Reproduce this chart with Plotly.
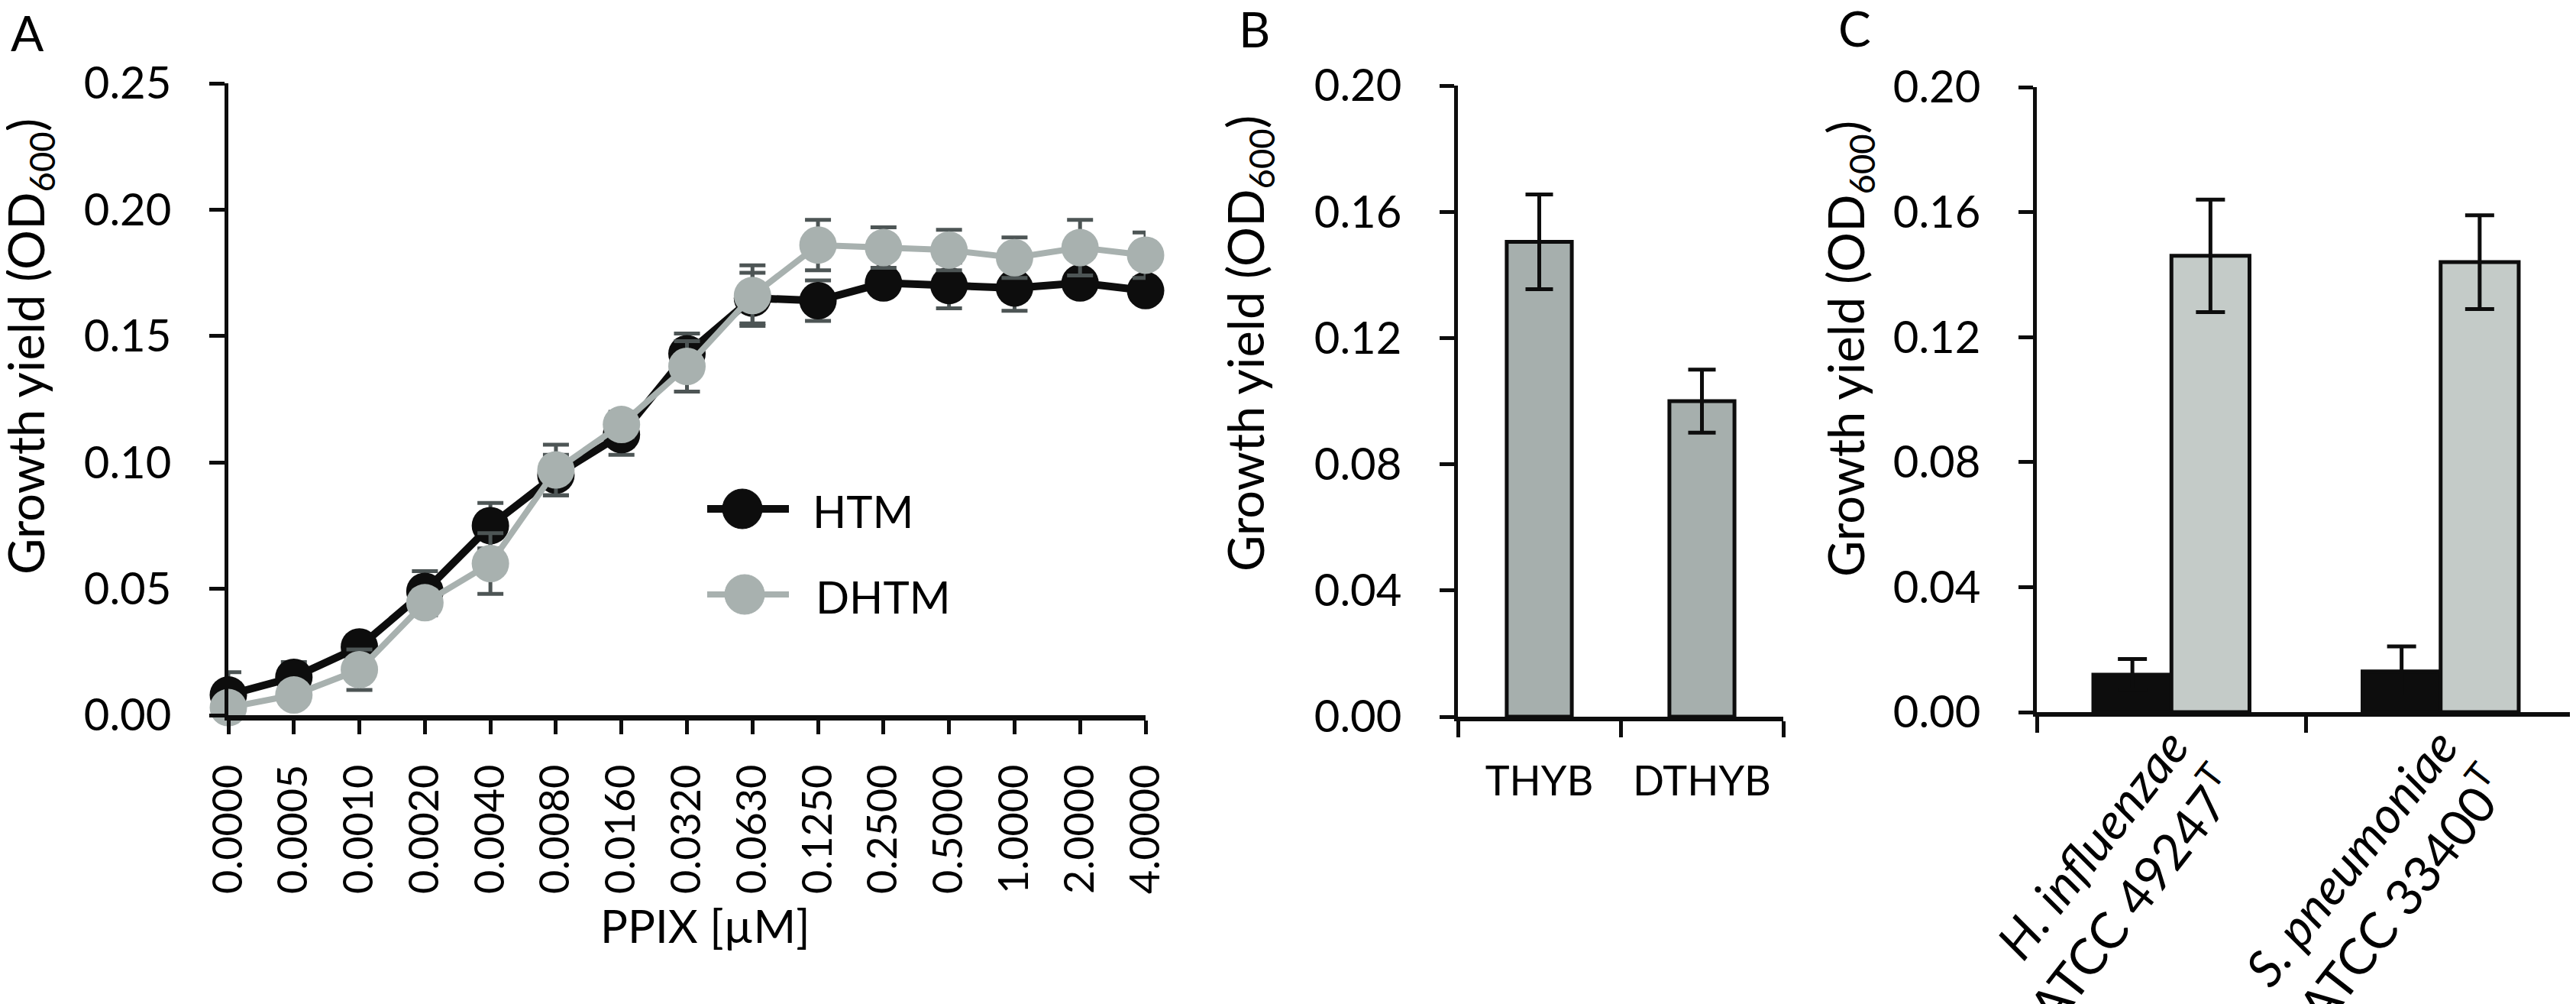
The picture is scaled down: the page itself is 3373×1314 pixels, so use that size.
import plotly.graph_objects as go

W, H = 3373, 1314
FONT = "Lato"

# ---------------- data ----------------
ppix = ["0.0000", "0.0005", "0.0010", "0.0020", "0.0040", "0.0080", "0.0160", "0.0320",
        "0.0630", "0.1250", "0.2500", "0.5000", "1.0000", "2.0000", "4.0000"]
htm = [0.008, 0.015, 0.027, 0.049, 0.075, 0.095, 0.111, 0.143, 0.165, 0.164, 0.171, 0.170, 0.169, 0.171, 0.168]
htm_err = [0.009, 0.006, 0.003, 0.008, 0.009, 0.008, 0.008, 0.008, 0.010, 0.008, 0.004, 0.009, 0.009, 0.004, 0.004]
dhtm = [0.003, 0.008, 0.018, 0.0445, 0.060, 0.097, 0.115, 0.138, 0.166, 0.186, 0.185, 0.184, 0.181, 0.185, 0.182]
dhtm_err = [0.003, 0.003, 0.008, 0.005, 0.012, 0.010, 0.005, 0.010, 0.012, 0.010, 0.008, 0.008, 0.008, 0.011, 0.009]

media_b = ["THYB", "DTHYB"]
yield_b = [0.1505, 0.100]
err_b = [0.015, 0.010]

strains_c = ["<i>H. influenzae</i><br>ATCC 49247<sup>T</sup>",
             "<i>S. pneumoniae</i><br>ATCC 33400<sup>T</sup>"]
yield_c_black = [0.012, 0.013]
err_c_black = [0.005, 0.008]
yield_c_grey = [0.146, 0.144]
err_c_grey = [0.018, 0.015]

# ---------------- colours ----------------
BLACK = "#0d0d0d"
GREY_LINE = "#a8b1af"
ERR_A = "#4d5555"
GREY_B = "#a6afad"
GREY_C = "#c4cbc8"


def px_x(p):
    return p / W


def px_y(p):
    return 1 - p / H


fig = go.Figure()

# ---- Panel A ----
fig.add_trace(go.Scatter(
    x=ppix, y=htm, mode="lines+markers", name="HTM",
    line=dict(color=BLACK, width=10),
    marker=dict(color=BLACK, size=49),
    error_y=dict(type="data", array=htm_err, color=ERR_A, thickness=5, width=17),
    cliponaxis=False, showlegend=False, xaxis="x", yaxis="y"))
fig.add_trace(go.Scatter(
    x=ppix, y=dhtm, mode="lines+markers", name="DHTM",
    line=dict(color=GREY_LINE, width=8),
    marker=dict(color=GREY_LINE, size=49),
    error_y=dict(type="data", array=dhtm_err, color=ERR_A, thickness=5, width=17),
    cliponaxis=False, showlegend=False, xaxis="x", yaxis="y"))

# ---- Panel B ----
fig.add_trace(go.Bar(
    x=media_b, y=yield_b, width=0.4,
    marker=dict(color=GREY_B, line=dict(color=BLACK, width=5)),
    error_y=dict(type="data", array=err_b, color=BLACK, thickness=5, width=18),
    showlegend=False, xaxis="x2", yaxis="y2"))

# ---- Panel C ----
fig.add_trace(go.Bar(
    x=strains_c, y=yield_c_black, width=0.29, offset=-0.29,
    marker=dict(color=BLACK, line=dict(color=BLACK, width=5)),
    error_y=dict(type="data", array=err_c_black, color=BLACK, thickness=5, width=19),
    showlegend=False, xaxis="x3", yaxis="y3"))
fig.add_trace(go.Bar(
    x=strains_c, y=yield_c_grey, width=0.29, offset=0.0,
    marker=dict(color=GREY_C, line=dict(color=BLACK, width=5)),
    error_y=dict(type="data", array=err_c_grey, color=BLACK, thickness=5, width=19),
    showlegend=False, xaxis="x3", yaxis="y3"))

common_y = dict(showgrid=False, zeroline=False, showline=True, linecolor=BLACK,
                linewidth=5, ticks="outside", tickcolor=BLACK, tickwidth=5,
                tickformat=".2f", tickfont=dict(family=FONT, size=58, color="#000"),
                fixedrange=True, automargin=False)
common_x = dict(showgrid=False, zeroline=False, showline=True, linecolor=BLACK,
                linewidth=6, ticks="outside", tickcolor=BLACK, tickwidth=5,
                type="category", tickfont=dict(family=FONT, size=54, color="#000"),
                fixedrange=True, automargin=False)

fig.update_layout(
    width=W, height=H,
    margin=dict(l=0, r=0, t=0, b=0, autoexpand=False),
    paper_bgcolor="white", plot_bgcolor="white",
    font=dict(family=FONT, color="#000"),
    xaxis=dict(common_x, domain=[px_x(291), px_x(1492)], range=[0, 14], anchor="y",
               ticklen=18, tickangle=-90, ticklabelstandoff=18, linewidth=7),
    yaxis=dict(common_y, domain=[px_y(928), px_y(101)], range=[0, 0.25], dtick=0.05,
               anchor="x", ticklen=20, ticklabelstandoff=38),
    xaxis2=dict(common_x, domain=[px_x(1901), px_x(2327)], range=[-0.5, 1.5], anchor="y2",
                tickson="boundaries", ticklen=21, ticklabelstandoff=32),
    yaxis2=dict(common_y, domain=[px_y(930), px_y(104)], range=[0, 0.2], dtick=0.04,
                anchor="x2", ticklen=19, ticklabelstandoff=38),
    xaxis3=dict(common_x, domain=[px_x(2659), px_x(3364)], range=[-0.5, 1.5], anchor="y3",
                tickson="boundaries", ticklen=21, tickangle=-52, ticklabelstandoff=-26,
                tickfont=dict(family=FONT, size=66, color="#000")),
    yaxis3=dict(common_y, domain=[px_y(924), px_y(106)], range=[0, 0.2], dtick=0.04,
                anchor="x3", ticklen=19, ticklabelstandoff=38),
)

ytitle = "Growth yield (OD<sub>600</sub>)"
annotations = [
    dict(text=ytitle, x=px_x(30), y=px_y(446), textangle=-90, font_size=65),
    dict(text=ytitle, x=px_x(1627), y=px_y(442), textangle=-90, font_size=65),
    dict(text=ytitle, x=px_x(2413), y=px_y(449), textangle=-90, font_size=65),
    dict(text="PPIX [µM]", x=px_x(915), y=px_y(1203), font_size=60),
    dict(text="A", x=px_x(28), y=px_y(34), font_size=64),
    dict(text="B", x=px_x(1634), y=px_y(30), font_size=64),
    dict(text="C", x=px_x(2420), y=px_y(28), font_size=64),
    dict(text="HTM", x=px_x(1054), y=px_y(660), xanchor="left", font_size=58),
    dict(text="DHTM", x=px_x(1058), y=px_y(772), xanchor="left", font_size=58),
]
for a in annotations:
    a.setdefault("xanchor", "center")
    fs = a.pop("font_size")
    a.update(xref="paper", yref="paper", yanchor="middle", showarrow=False,
             font=dict(family=FONT, size=fs, color="#000"))
fig.update_layout(annotations=annotations)

# legend symbols (drawn as shapes)
shapes = []
for (lx0, lx1, ly, cx, col, lw) in [(918, 1025, 658, 964, BLACK, 10), (918, 1025, 770, 967, GREY_LINE, 8)]:
    shapes.append(dict(type="line", xref="paper", yref="paper",
                       x0=px_x(lx0), x1=px_x(lx1), y0=px_y(ly), y1=px_y(ly),
                       line=dict(color=col, width=lw)))
    shapes.append(dict(type="circle", xref="paper", yref="paper",
                       xsizemode="pixel", ysizemode="pixel",
                       xanchor=px_x(cx), yanchor=px_y(ly),
                       x0=-26, x1=26, y0=-26, y1=26,
                       fillcolor=col, line=dict(color=col, width=1)))
fig.update_layout(shapes=shapes)

fig.write_html("out.html")
